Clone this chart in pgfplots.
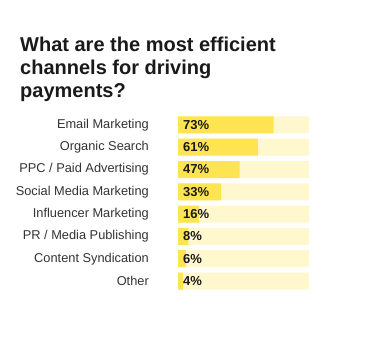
\documentclass[border=0pt]{standalone}
\usepackage{pgfplots}
\pgfplotsset{compat=1.18}
\usepackage{fontspec}
\setmainfont{Liberation Sans}
\definecolor{baryellow}{HTML}{FFE451}
\definecolor{bgyellow}{HTML}{FFF8CF}
\definecolor{txt}{HTML}{1A1A1A}
\definecolor{lbl}{HTML}{333333}
\begin{document}
\begin{tikzpicture}
\useasboundingbox[fill=white] (0,0) rectangle (367bp,354bp);
\begin{scope}[every node/.style={anchor=base west, inner sep=0pt, text=txt, font=\fontsize{20bp}{23bp}\selectfont\bfseries}]
\node at (20bp,302.5bp) {What are the most efficient};
\node at (20bp,279.5bp) {channels for driving};
\node at (20bp,256.5bp) {payments?};
\end{scope}
\begin{axis}[
  at={(178bp,61.85bp)}, anchor=south west,
  scale only axis, width=131bp, height=178.4bp,
  xmin=0, xmax=100, ymin=-0.5, ymax=7.5, y dir=reverse,
  axis line style={draw=none},
  tick style={draw=none},
  major tick length=0pt,
  xtick=\empty,
  ytick={0,1,2,3,4,5,6,7},
  yticklabels={Email Marketing,Organic Search,PPC / Paid Advertising,Social Media Marketing,Influencer Marketing,PR / Media Publishing,Content Syndication,Other},
  yticklabel style={inner sep=0pt, xshift=-29bp, text=lbl, font=\fontsize{12.8bp}{14bp}\selectfont},
  clip=false,
]
\addplot[xbar, bar width=17bp, bar shift=0pt, fill=bgyellow, draw=none] coordinates {
(100,0) (100,1) (100,2) (100,3) (100,4) (100,5) (100,6) (100,7)};
\addplot[xbar, bar width=17bp, bar shift=0pt, fill=baryellow, draw=none] coordinates {
(73,0) (61,1) (47,2) (33,3) (16,4) (8,5) (6,6) (4,7)};
\addplot[only marks, mark=none, point meta=explicit,
  nodes near coords={\pgfmathprintnumber[assume math mode=true]{\pgfplotspointmeta}\%},
  every node near coord/.style={anchor=west, inner sep=0pt, xshift=5bp, text=txt, font=\fontsize{13bp}{14bp}\selectfont\bfseries}]
  table[x=x, y=y, meta=v] {
x y v
0 0 73
0 1 61
0 2 47
0 3 33
0 4 16
0 5 8
0 6 6
0 7 4
};
\end{axis}
\end{tikzpicture}
\end{document}
